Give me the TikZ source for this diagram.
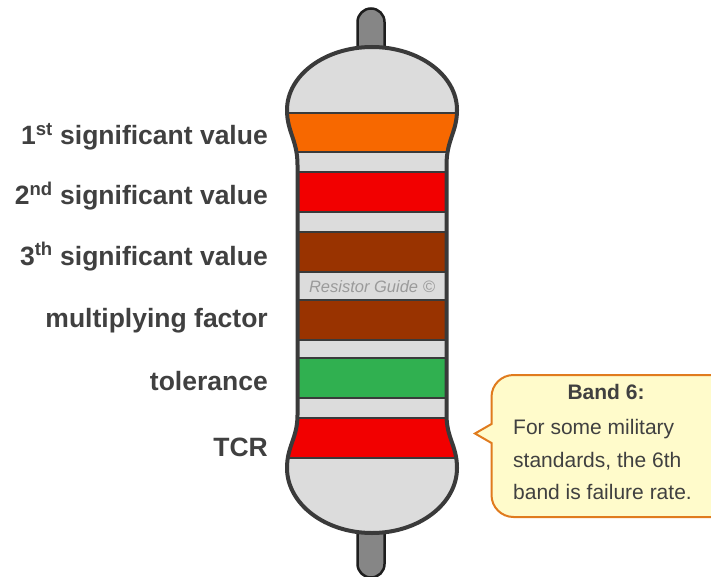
\documentclass[tikz,border=0pt]{standalone}
\usepackage{fontspec}
\setmainfont{Liberation Sans}
\definecolor{outline}{HTML}{3A3A3A}
\definecolor{leadline}{HTML}{1E1E1E}
\definecolor{bodygray}{HTML}{DCDCDC}
\definecolor{leadgray}{HTML}{868686}
\definecolor{bandorange}{HTML}{F76800}
\definecolor{bandred}{HTML}{F20000}
\definecolor{bandbrown}{HTML}{993300}
\definecolor{bandgreen}{HTML}{30B050}
\definecolor{labeltext}{HTML}{404040}
\definecolor{marktext}{HTML}{9A9A9A}
\definecolor{notefill}{HTML}{FFFBCB}
\definecolor{noteborder}{HTML}{E07B1E}
% outline of the resistor body: top cap, waist, bottom cap
\newcommand\resbodypath{%
  (297.5,165) .. controls (297.5,140) and (287,132) .. (287,110)
  .. controls (287,75.2) and (325.1,47) .. (372,47)
  .. controls (418.9,47) and (457,75.2) .. (457,110)
  .. controls (457,132) and (446.5,140) .. (446.5,165)
  -- (446.5,415)
  .. controls (446.5,438) and (457,446) .. (457,468)
  .. controls (457,503.9) and (418.9,533) .. (372,533)
  .. controls (325.1,533) and (287,503.9) .. (287,468)
  .. controls (287,446) and (297.5,438) .. (297.5,415)
  -- cycle}
\begin{document}
\begin{tikzpicture}[x=1pt,y=-1pt,
  lead/.style={fill=leadgray, draw=leadline, line width=2.5pt, rounded corners=13.5pt},
  band/.style={draw=outline, line width=2pt},
  lab/.style={anchor=base east, inner sep=0pt, text=labeltext,
    font=\fontsize{26.5}{30}\selectfont\bfseries},
  notetext/.style={inner sep=0pt, text=labeltext, font=\fontsize{21}{32.5}\selectfont}]
\useasboundingbox (0,0) rectangle (711,577);
% leads
\draw[lead] (357.5,70) -- (357.5,8.5) -- (384.5,8.5) -- (384.5,70);
\draw[lead] (357.5,500) -- (357.5,577.5) -- (384.5,577.5) -- (384.5,500);
% body with colour bands
\fill[bodygray] \resbodypath;
\begin{scope}
  \clip \resbodypath;
  \foreach \btop/\bbot/\bcol in {113/152/bandorange, 172/212/bandred,
      232/272/bandbrown, 300/340/bandbrown, 358/398/bandgreen, 418/458/bandred}
    \filldraw[band, fill=\bcol] (270,\btop) rectangle (475,\bbot);
\end{scope}
\draw[outline, line width=4pt] \resbodypath;
\node[inner sep=0pt, text=marktext, font=\fontsize{16.5}{20}\selectfont\itshape]
  (mark) at (372,287) {Resistor Guide \textcopyright};
% band labels
\node[lab] (l1) at (268,145) {1\textsuperscript{st} significant value};
\node[lab] (l2) at (268,205) {2\textsuperscript{nd} significant value};
\node[lab] (l3) at (268,265) {3\textsuperscript{th} significant value};
\node[lab] (l4) at (268,327) {multiplying factor};
\node[lab] (l5) at (268,390) {tolerance};
\node[lab] (l6) at (268,456) {TCR};
% callout for the sixth band
\filldraw[fill=notefill, draw=noteborder, line width=2pt]
  (491.5,424) -- (475,433.5) -- (491.5,443)
  -- (491.5,495) arc[start angle=180, end angle=90, radius=22]
  -- (700,517) -- (720,517) -- (720,375) -- (513.5,375)
  arc[start angle=270, end angle=180, radius=22] -- cycle;
\node[notetext, font=\fontsize{21}{25}\selectfont\bfseries] (nh) at (606,392) {Band 6:};
\node[notetext, anchor=base west] (n1) at (513,434) {For some military};
\node[notetext, anchor=base west] (n2) at (513,467) {standards, the 6th};
\node[notetext, anchor=base west] (n3) at (513,499) {band is failure rate.};
\end{tikzpicture}
\end{document}
